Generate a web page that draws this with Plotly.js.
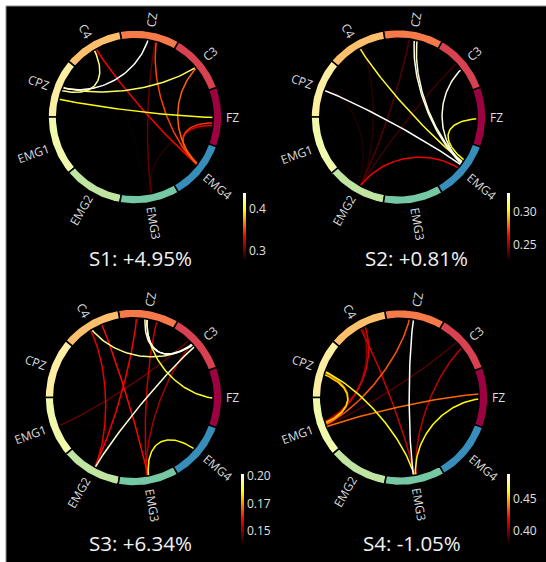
<!DOCTYPE html>
<html>
<head>
<meta charset="utf-8">
<script src="https://cdn.plot.ly/plotly-3.0.1.min.js"></script>
<style>html,body{margin:0;padding:0;background:#fff}</style>
</head>
<body>
<div id="chart" style="width:546px;height:562px"></div>
<script>
// Channels around the ring, counter-clockwise from the right-hand side
const nodeNames  = ['FZ', 'C3', 'CZ', 'C4', 'CPZ', 'EMG1', 'EMG2', 'EMG3', 'EMG4'];
const nodeAngles = [0, 40, 80, 120, 160, 200, 240, 280, 320];
const nodeColors = ['#9e0142', '#d74150', '#f67a49', '#fdbf6c', '#feeea2',
                    '#f1faaa', '#bfe5a0', '#76c8a5', '#388eba'];

const panelTitles = ['S1: +4.95%', 'S2: +0.81%', 'S3: +6.34%', 'S4: -1.05%'];

// Connections: [from, to, strength, start shift (deg), end shift (deg)]
const linksS1 = [
  ['CZ',  'CPZ',  0.438,  0.0, -1.5],
  ['C4',  'CPZ',  0.418,  1.0,  0.5],
  ['C3',  'CPZ',  0.412, -1.0, -2.0],
  ['CPZ', 'FZ',   0.400,  7.0, -0.5],
  ['C3',  'EMG4', 0.360, -1.0,  2.5],
  ['CZ',  'EMG4', 0.352, -5.5,  2.0],
  ['FZ',  'EMG4', 0.348, -4.0,  3.0],
  ['C4',  'EMG4', 0.336,  0.0,  2.6],
  ['FZ',  'EMG4', 0.330, -6.0,  2.0],
  ['CZ',  'EMG3', 0.300, -5.0,  2.0],
  ['EMG3','FZ',   0.286,  0.0, -7.0],
  ['C4',  'EMG3', 0.279, -3.0,  0.0]
];
const linksS2 = [
  ['CPZ', 'EMG4', 0.329,  0.0,  2.7],
  ['CZ',  'EMG4', 0.327, -1.3,  3.0],
  ['C3',  'EMG4', 0.326, -2.3,  3.3],
  ['CZ',  'EMG4', 0.324, -3.3,  4.0],
  ['C4',  'EMG4', 0.308, -0.4,  4.8],
  ['FZ',  'EMG4', 0.305, -1.0,  6.4],
  ['EMG2','EMG4', 0.262,  0.6,  0.0],
  ['EMG2','CZ',   0.238,  1.0,  2.0],
  ['EMG2','C3',   0.235,  1.0,  3.0],
  ['EMG2','C4',   0.232,  2.0, -3.0],
  ['CPZ', 'EMG2', 0.230, -4.0, -1.0],
  ['C4',  'EMG4', 0.227, -4.0,  1.0]
];
const linksS3 = [
  ['CZ',  'C3',   0.202,  0.4,  1.6],
  ['C3',  'CZ',   0.199,  2.0,  2.0],
  ['C3',  'EMG2', 0.199,  0.0,  1.0],
  ['C4',  'C3',   0.195,  2.0,  1.0],
  ['CZ',  'FZ',   0.188,  0.8, -1.0],
  ['EMG3','EMG4', 0.186,  0.5,  0.0],
  ['C4',  'EMG3', 0.162, -6.7,  0.5],
  ['CZ',  'EMG2', 0.161,  7.6,  1.0],
  ['C4',  'EMG2', 0.159,  2.2,  1.5],
  ['CZ',  'EMG3', 0.156, -6.8,  0.0],
  ['C3',  'EMG3', 0.153,  3.0, -1.0],
  ['C3',  'EMG1', 0.146,  5.9,  1.0],
  ['EMG1','EMG3', 0.138,  0.0,  2.0]
];
const linksS4 = [
  ['CZ',  'EMG3', 0.489,  0.4, -0.4],
  ['CPZ', 'EMG3', 0.463,  0.6,  0.8],
  ['FZ',  'EMG3', 0.461, -0.6,  0.9],
  ['CPZ', 'EMG1', 0.455,  2.9, -1.0],
  ['CPZ', 'EMG1', 0.440,  1.5,  0.0],
  ['FZ',  'EMG1', 0.437,  2.8,  1.6],
  ['CZ',  'EMG1', 0.434,  2.8,  0.5],
  ['C4',  'EMG1', 0.415, -4.3, -1.5],
  ['C4',  'EMG3', 0.412, -0.4,  1.0],
  ['C3',  'EMG3', 0.410, -0.9,  1.5],
  ['C4',  'EMG1', 0.402, -2.0, -2.0],
  ['C3',  'EMG1', 0.392,  4.2,  1.0],
  ['CZ',  'EMG4', 0.381, -5.9,  0.0]
];
const panelLinks = [linksS1, linksS2, linksS3, linksS4];

// Colour-bar ticks for each panel
const cbTickVals = [[0.3, 0.4], [0.25, 0.30], [0.15, 0.175, 0.20], [0.40, 0.45]];
const cbTickText = [['0.3', '0.4'], ['0.25', '0.30'], ['0.15', '0.17', '0.20'], ['0.40', '0.45']];

// ---- layout geometry (pixels) ----
const W = 546, H = 562;
const panels = [
  {cx: 135,   cy: 117,   R: 87,   title: [140.5, 258], cb: [243,   193, 67]},
  {cx: 398.5, cy: 117,   R: 87.5, title: [416,   258], cb: [507,   193, 67]},
  {cx: 133.5, cy: 397.5, R: 88.5, title: [140.5, 543], cb: [240.5, 474, 70]},
  {cx: 400,   cy: 397.5, R: 88,   title: [411.7, 543], cb: [506.5, 474, 69]}
];
const HALF_X = 130, HALF_Y = 115;

// matplotlib "hot"
function hot(t) {
  t = Math.max(0, Math.min(1, t));
  const a = 0.365079, b = 0.746032;
  const r = t < a ? 0.0416 + (1 - 0.0416) * t / a : 1;
  const g = t < a ? 0 : (t < b ? (t - a) / (b - a) : 1);
  const bl = t < b ? 0 : (t - b) / (1 - b);
  return 'rgb(' + Math.round(r * 255) + ',' + Math.round(g * 255) + ',' + Math.round(bl * 255) + ')';
}
const HOT_SCALE = [[0, 'rgb(11,0,0)'], [0.365079, 'rgb(255,0,0)'],
                   [0.746032, 'rgb(255,255,0)'], [1, 'rgb(255,255,255)']];

const rad = d => d * Math.PI / 180;

// cubic Bezier with control points at half radius (chord-diagram style)
function bezier(a0, a1) {
  const c0 = Math.cos(rad(a0)), s0 = Math.sin(rad(a0));
  const c1 = Math.cos(rad(a1)), s1 = Math.sin(rad(a1));
  const xs = [], ys = [];
  const N = 60;
  for (let k = 0; k <= N; k++) {
    const t = k / N, u = 1 - t;
    const b0 = u * u * u, b1 = 3 * u * u * t, b2 = 3 * u * t * t, b3 = t * t * t;
    xs.push(b0 * 10 * c0 + b1 * 5 * c0 + b2 * 5 * c1 + b3 * 10 * c1);
    ys.push(b0 * 10 * s0 + b1 * 5 * s0 + b2 * 5 * s1 + b3 * 10 * s1);
  }
  return [xs, ys];
}

const ctx = document.createElement('canvas').getContext('2d');
const LABEL_FONT = 12;
ctx.font = LABEL_FONT + "px 'Open Sans'";

const traces = [];
const annotations = [];
const layout = {
  width: W, height: H,
  margin: {l: 0, r: 0, t: 0, b: 0},
  paper_bgcolor: '#ffffff',
  plot_bgcolor: 'rgba(0,0,0,0)',
  showlegend: false,
  shapes: [{
    type: 'rect', xref: 'paper', yref: 'paper',
    x0: 6 / W, x1: 1.02, y0: -0.02, y1: 1 - 6 / H,
    fillcolor: '#000000', line: {color: '#8c8c8c', width: 1}, layer: 'below'
  }],
  annotations: annotations
};

panels.forEach((p, k) => {
  const n = k + 1;
  const xa = 'x' + (n === 1 ? '' : n), ya = 'y' + (n === 1 ? '' : n);
  const s = p.R / 10; // px per unit
  layout['xaxis' + (n === 1 ? '' : n)] = {
    domain: [(p.cx - HALF_X) / W, (p.cx + HALF_X) / W],
    range: [-HALF_X / s, HALF_X / s], visible: false, fixedrange: true
  };
  layout['yaxis' + (n === 1 ? '' : n)] = {
    domain: [1 - (p.cy + HALF_Y) / H, 1 - (p.cy - HALF_Y) / H],
    range: [-HALF_Y / s, HALF_Y / s], visible: false, fixedrange: true
  };

  const links = panelLinks[k].slice().sort((a, b) => a[2] - b[2]);
  const vals = links.map(l => l[2]);
  const vmin = Math.min(...vals), vmax = Math.max(...vals);

  // connections, weakest first
  links.forEach(l => {
    const i = nodeNames.indexOf(l[0]), j = nodeNames.indexOf(l[1]);
    const [xs, ys] = bezier(nodeAngles[i] + l[3], nodeAngles[j] + l[4]);
    traces.push({
      type: 'scatter', mode: 'lines', x: xs, y: ys, xaxis: xa, yaxis: ya,
      line: {color: hot((l[2] - vmin) / (vmax - vmin)), width: 1.5},
      hoverinfo: 'skip'
    });
  });

  // node ring
  nodeNames.forEach((name, i) => {
    const a0 = nodeAngles[i] - 20, a1 = nodeAngles[i] + 20;
    const xs = [], ys = [];
    for (let m = 0; m <= 30; m++) {
      const a = rad(a0 + (a1 - a0) * m / 30);
      xs.push(10 * Math.cos(a)); ys.push(10 * Math.sin(a));
    }
    for (let m = 30; m >= 0; m--) {
      const a = rad(a0 + (a1 - a0) * m / 30);
      xs.push(9 * Math.cos(a)); ys.push(9 * Math.sin(a));
    }
    xs.push(xs[0]); ys.push(ys[0]);
    traces.push({
      type: 'scatter', mode: 'lines', x: xs, y: ys, xaxis: xa, yaxis: ya,
      fill: 'toself', fillcolor: nodeColors[i],
      line: {color: '#000000', width: 1.6}, hoverinfo: 'skip'
    });

    // radial label
    const th = nodeAngles[i];
    const w = ctx.measureText(name).width;
    const rc = 10.5 + (w / 2) / s;
    let ang = (th > 90 && th < 270) ? 180 - th : -th;
    while (ang > 180) ang -= 360;
    while (ang < -180) ang += 360;
    annotations.push({
      xref: xa, yref: ya, x: rc * Math.cos(rad(th)), y: rc * Math.sin(rad(th)),
      text: name, showarrow: false, xanchor: 'center', yanchor: 'middle',
      textangle: ang,
      font: {family: "'Open Sans', 'Noto Sans', sans-serif", size: LABEL_FONT, color: '#dcdcdc'}
    });
  });

  // colour bar
  traces.push({
    type: 'scatter', mode: 'markers', x: [0], y: [0], xaxis: xa, yaxis: ya,
    hoverinfo: 'skip',
    marker: {
      size: 0, color: [vmin], cmin: vmin, cmax: vmax, colorscale: HOT_SCALE,
      showscale: true,
      colorbar: {
        x: p.cb[0] / W, xanchor: 'left', y: 1 - p.cb[1] / H, yanchor: 'top',
        len: p.cb[2], lenmode: 'pixels', thickness: 3, thicknessmode: 'pixels',
        xpad: 0, ypad: 0, outlinewidth: 0, borderwidth: 0,
        tickvals: cbTickVals[k], ticktext: cbTickText[k], ticks: '',
        tickfont: {family: "'Open Sans', 'Noto Sans', sans-serif", size: 12, color: '#e0e0e0'}
      }
    }
  });

  // panel title
  annotations.push({
    xref: 'paper', yref: 'paper', x: p.title[0] / W, y: 1 - p.title[1] / H,
    text: panelTitles[k], showarrow: false, xanchor: 'center', yanchor: 'middle',
    font: {family: "'Open Sans', 'Noto Sans', sans-serif", size: 20.5, color: '#f2f2f2'}
  });
});

Plotly.newPlot('chart', traces, layout, {staticPlot: true, displayModeBar: false});
</script>
</body>
</html>
